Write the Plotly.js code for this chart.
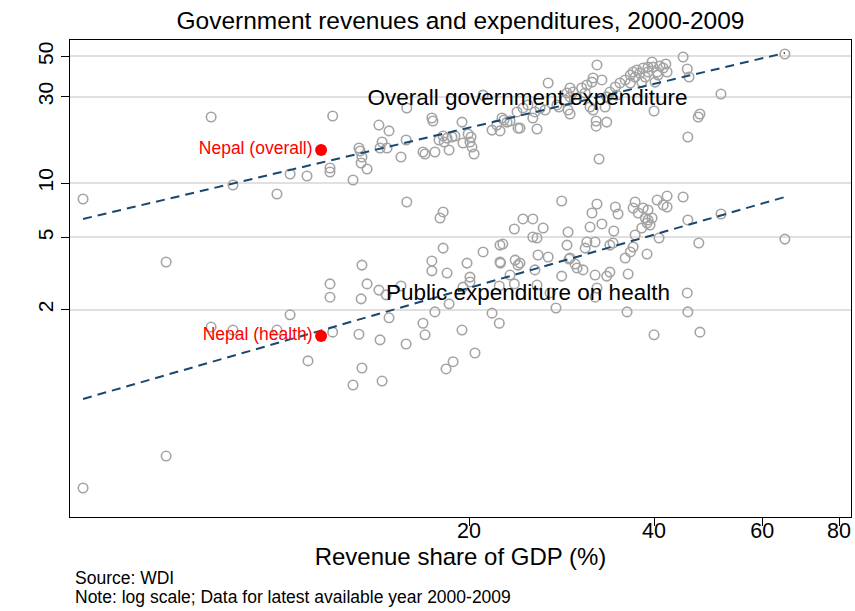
<!DOCTYPE html>
<html>
<head>
<meta charset="utf-8">
<script src="https://cdn.plot.ly/plotly-3.0.1.min.js"></script>
<style>html,body{margin:0;padding:0;background:#fff;}#chart{width:855px;height:611px;}</style>
</head>
<body>
<div id="chart"></div>
<script>
// Revenue share of GDP (%) and overall government expenditure (% of GDP)
const overallX = [4.71,7.61,8.26,9.74,10.23,10.9,11.88,11.88,12.0,12.95,
 13.24,13.3,13.39,13.35,13.65,14.27,14.82,14.44,14.33,14.71,
 15.5,15.8,15.84,16.83,16.96,17.6,17.4,17.47,17.87,18.15,
 18.42,18.22,18.76,18.97,18.56,19.48,19.55,19.93,20.15,20.07,
 20.22,20.38,21.8,22.46,22.2,22.63,22.8,23.32,23.94,24.03,
 24.48,24.94,21.08,23.06,24.21,25.4,25.6,26.6,25.8,26.1,
 26.9,27.8,28.0,28.66,29.2,28.98,29.2,29.2,28.87,29.53,
 30.5,31.1,31.7,31.83,32.9,30.9,31.47,31.83,32.3,32.2,
 32.2,33.5,32.55,33.3,33.5,34.8,33.9,34.6,35.2,35.9,
 36.6,36.6,36.98,37.26,37.5,37.9,38.2,38.4,38.7,39.1,
 39.7,39.1,39.86,40.15,40.46,40.6,40.9,41.4,41.8,42.0,
 40.0,44.6,45.3,45.6,47.5,47.2,45.4,51.4,65.3];
const overallY = [8.16,23.15,9.75,8.69,11.21,10.93,12.1,11.5,23.45,10.39,
 15.61,15.03,13.92,12.9,11.95,20.9,19.4,16.85,15.61,15.61,
 13.92,17.28,25.97,14.83,14.46,14.83,22.86,22.0,17.28,18.18,
 17.7,16.85,17.95,18.18,15.22,21.7,16.63,18.65,17.95,16.85,
 15.8,14.46,19.6,19.4,20.9,22.86,22.3,22.0,24.7,20.1,
 25.97,27.0,30.6,21.7,20.1,22.86,24.7,25.3,19.87,25.97,
 35.7,27.0,26.3,28.8,24.05,25.3,29.9,33.5,31.42,31.8,
 33.5,34.8,36.1,38.03,37.1,31.42,26.3,25.3,44.9,22.0,
 20.6,21.7,13.57,26.3,29.9,30.6,31.8,33.9,35.7,37.1,
 39.5,35.7,41.05,38.5,42.1,40.5,36.1,43.19,38.5,41.05,
 46.6,43.7,43.7,36.1,41.05,39.5,44.3,43.19,45.44,41.05,
 25.0,49.7,42.65,38.5,24.05,23.15,17.95,31.0,51.6];

// Revenue share of GDP (%) and public expenditure on health (% of GDP)
const healthX = [4.71,6.43,6.43,7.61,8.26,9.74,10.23,10.94,11.88,11.88,
 12.0,13.24,13.35,13.39,13.39,13.65,14.27,14.66,14.33,14.44,
 12.95,15.5,15.8,14.82,16.83,16.96,17.6,17.4,17.4,18.15,
 18.42,18.56,18.35,18.84,15.84,17.94,18.15,19.48,20.45,19.85,
 20.07,20.07,19.55,21.08,22.46,22.7,22.46,22.5,23.77,24.03,
 23.32,23.7,24.48,25.4,21.8,22.4,23.7,22.4,28.3,32.3,
 31.7,31.47,32.9,34.6,34.95,34.4,37.26,36.98,37.7,38.4,
 39.1,40.46,42.0,41.4,42.0,44.6,38.7,39.1,39.7,38.96,
 39.4,38.2,45.4,51.4,65.3,47.3,40.75,38.96,37.26,36.98,
 36.6,35.9,36.3,33.9,33.5,34.3,33.9,32.07,31.1,30.9,
 28.87,28.98,29.2,29.75,29.98,30.65,32.07,28.3,26.9,25.9,
 25.6,25.4,25.8,26.4,24.21,45.3,45.4,47.5,40.0,36.15,
 32.3,32.07,27.7,25.8,27.1,29.1];
const healthY = [0.2065,0.31,3.66,1.60,1.54,1.54,1.87,1.04,2.77,2.34,
 1.50,1.46,2.29,3.52,0.95,2.77,2.56,2.41,1.36,0.805,
 0.766,2.70,1.29,1.80,1.68,1.45,1.94,3.71,3.27,4.37,
 3.18,2.15,0.939,1.03,7.85,6.41,6.92,1.54,1.15,3.61,
 3.02,2.84,2.66,4.16,4.54,4.60,3.66,3.61,3.75,3.52,
 3.1,5.57,6.33,6.33,1.91,1.68,2.77,2.70,7.95,7.66,
 6.83,5.71,5.94,7.37,6.74,5.43,7.85,7.28,6.83,7.28,
 7.09,8.05,8.47,7.56,7.37,8.37,6.41,6.25,6.41,6.01,
 5.86,5.64,6.25,6.74,4.90,4.66,4.97,4.05,5.16,4.43,
 4.16,3.85,3.14,3.22,3.06,4.66,4.54,4.72,4.72,4.37,
 4.54,5.36,3.85,3.57,3.39,3.31,3.1,3.06,3.90,4.0,
 3.31,5.03,4.97,5.64,3.61,2.47,1.94,1.50,1.45,1.94,
 2.63,2.34,2.04,2.73,2.47,3.80];

// Fitted lines (log-log), end points
const fitX = [4.71, 65.3];
const fitOverall = [6.33, 52.3];
const fitHealth = [0.641, 8.37];

// Nepal
const nepalX = 11.49;
const nepalOverall = 15.22;
const nepalHealth = 1.43;

// Tick labels
const xTicks = [20, 40, 60, 80];
const yTicks = [2, 5, 10, 30, 50];

const FONT = '"Liberation Sans", Arial, Helvetica, sans-serif';
const circ = {symbol: 'circle-open', size: 9.5, color: '#a4a4a4', line: {width: 1.6, color: '#a4a4a4'}};

const traces = [
  {x: overallX, y: overallY, type: 'scatter', mode: 'markers', marker: circ, hoverinfo: 'skip'},
  {x: healthX, y: healthY, type: 'scatter', mode: 'markers', marker: circ, hoverinfo: 'skip'},
  {x: fitX, y: fitOverall, type: 'scatter', mode: 'lines', line: {color: '#1a476f', width: 2, dash: '9px,6px'}},
  {x: fitX, y: fitHealth, type: 'scatter', mode: 'lines', line: {color: '#1a476f', width: 2, dash: '9px,6px'}},
  {x: [nepalX, nepalX], y: [nepalOverall, nepalHealth], type: 'scatter', mode: 'markers+text',
   marker: {symbol: 'circle', size: 12, color: '#ff0000'},
   text: ['Nepal (overall)', 'Nepal (health)'], textposition: 'middle left',
   textfont: {family: FONT, size: 17.5, color: '#ff0000'}, cliponaxis: false},
  {x: [24.9, 24.94], y: [29.1, 2.44], type: 'scatter', mode: 'text',
   text: ['Overall government expenditure', 'Public expenditure on health'],
   textposition: 'middle center', textfont: {family: FONT, size: 22.5, color: '#000'}, cliponaxis: false}
];

const layout = {
  width: 855, height: 611,
  margin: {l: 70, r: 4, t: 40, b: 94},
  paper_bgcolor: '#ffffff', plot_bgcolor: '#ffffff',
  showlegend: false,
  font: {family: FONT, color: '#000'},
  title: {text: 'Government revenues and expenditures, 2000-2009', font: {family: FONT, size: 24.5, color: '#000'},
          xref: 'paper', x: 0.5, xanchor: 'center', yref: 'container', y: 0.967, yanchor: 'middle'},
  xaxis: {
    type: 'log', range: [0.6518, 1.9225],
    tickmode: 'array', tickvals: xTicks, ticktext: xTicks.map(String),
    ticks: 'outside', ticklen: 8, tickwidth: 1, tickcolor: '#000',
    ticklabelstandoff: -14,
    showline: true, linecolor: '#000', linewidth: 1, mirror: true,
    showgrid: false, zeroline: false,
    tickfont: {family: FONT, size: 21.5, color: '#000'},
    title: {text: 'Revenue share of GDP (%)', font: {family: FONT, size: 24, color: '#000'}, standoff: 0}
  },
  yaxis: {
    type: 'log', range: [-0.8453, 1.7901],
    tickmode: 'array', tickvals: yTicks, ticktext: yTicks.map(String),
    tickangle: -90,
    ticks: 'outside', ticklen: 8, tickwidth: 1, tickcolor: '#000',
    showline: true, linecolor: '#000', linewidth: 1, mirror: true,
    showgrid: true, gridcolor: '#e0e0e0', gridwidth: 2, zeroline: false,
    tickfont: {family: FONT, size: 21, color: '#000'}
  },
  annotations: [
    {text: 'Source: WDI', xref: 'paper', yref: 'paper', x: 0.004, y: -0.128, xanchor: 'left', yanchor: 'middle',
     showarrow: false, font: {family: FONT, size: 17.5, color: '#000'}},
    {text: 'Note: log scale; Data for latest available year 2000-2009', xref: 'paper', yref: 'paper', x: 0.004, y: -0.168,
     xanchor: 'left', yanchor: 'middle', showarrow: false, font: {family: FONT, size: 17.5, color: '#000'}}
  ]
};

Plotly.newPlot('chart', traces, layout, {staticPlot: true, displayModeBar: false});
</script>
</body>
</html>
